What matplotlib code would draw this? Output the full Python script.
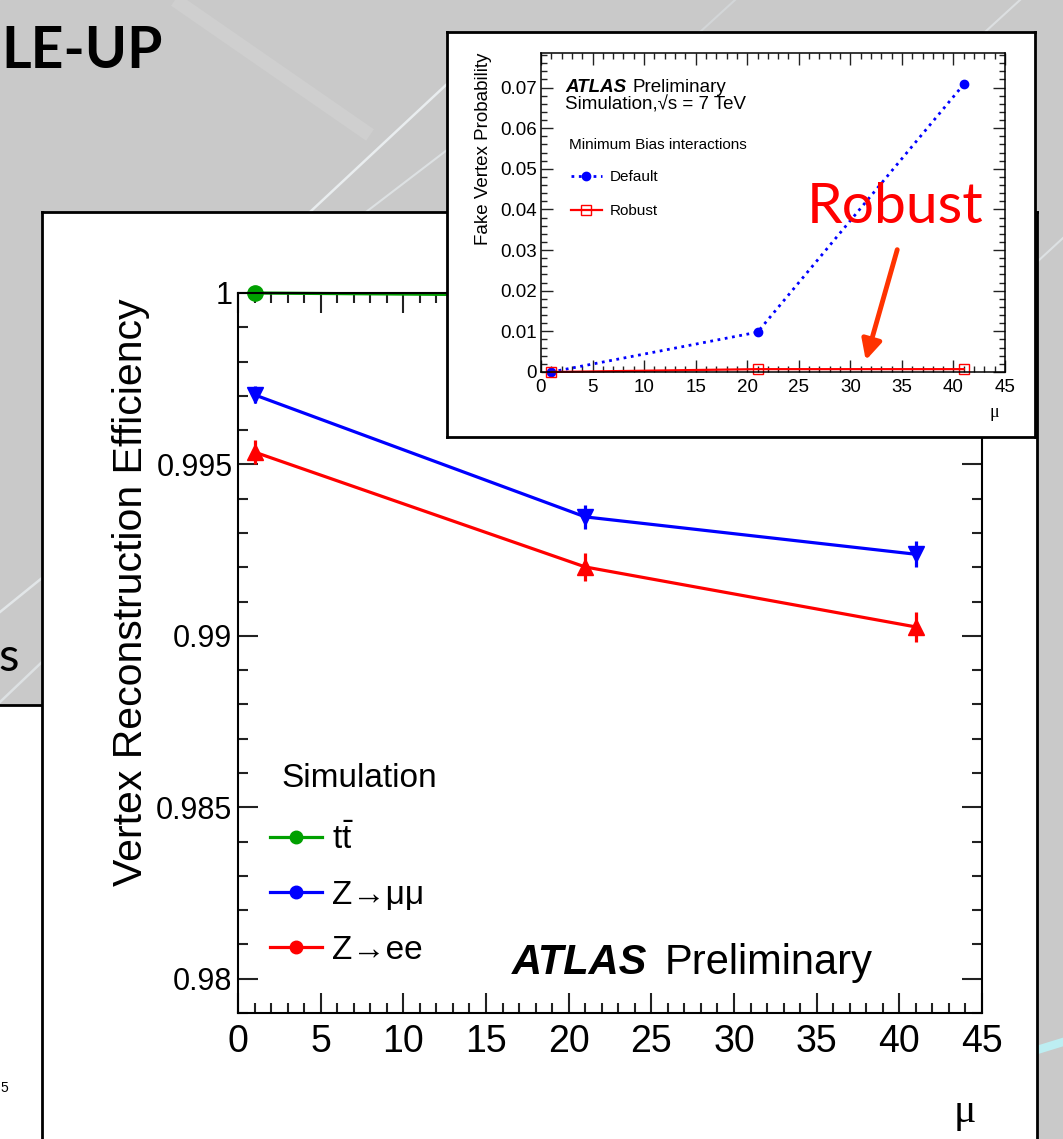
import matplotlib
matplotlib.use("Agg")
import matplotlib.pyplot as plt
from matplotlib.lines import Line2D
from matplotlib.patches import Rectangle
from matplotlib.ticker import MultipleLocator

plt.rcParams['font.family'] = ['Liberation Sans', 'DejaVu Sans']
plt.rcParams['mathtext.fontset'] = 'custom'
plt.rcParams['mathtext.rm'] = 'Liberation Sans'
plt.rcParams['mathtext.it'] = 'Liberation Sans:italic'
plt.rcParams['mathtext.bf'] = 'Liberation Sans:bold'

# vertex reconstruction efficiency vs pile-up
mu = [1, 21, 41]
eff_ttbar = [1.0, 0.99993, 0.99990]
err_ttbar = [0.00002, 0.00002, 0.00002]
eff_zmumu = [0.99703, 0.99347, 0.99238]
err_zmumu = [0.00025, 0.00035, 0.00038]
eff_zee = [0.99536, 0.99201, 0.99026]
err_zee = [0.00035, 0.00040, 0.00045]
series_labels = [r'$\mathrm{t\bar{t}}$', 'Z→μμ', 'Z→ee']
series_colors = ['#00a000', '#0000ff', '#ff0000']

x_ticks = [0, 5, 10, 15, 20, 25, 30, 35, 40, 45]
y_ticks = [0.98, 0.985, 0.99, 0.995, 1.0]
y_tick_labels = ['0.98', '0.985', '0.99', '0.995', '1']

# fake vertex probability (minimum bias)
mu_fake = [1, 21, 41]
fake_default = [0.0, 0.0098, 0.0708]
fake_robust = [0.0, 0.0007, 0.0007]
fake_y_ticks = [0, 0.01, 0.02, 0.03, 0.04, 0.05, 0.06, 0.07]
fake_y_tick_labels = ['0', '0.01', '0.02', '0.03', '0.04', '0.05', '0.06', '0.07']

W, H = 1063, 1139
fig = plt.figure(figsize=(W / 100, H / 100), dpi=100)


def px_axes(x0, y0, x1, y1):
    return fig.add_axes([x0 / W, 1 - y1 / H, (x1 - x0) / W, (y1 - y0) / H])


# slide background
bg = px_axes(0, 0, W, H)
bg.set_zorder(0)
bg.set_xlim(0, W)
bg.set_ylim(H, 0)
bg.axis('off')
bg.add_patch(Rectangle((0, 0), W, H, color='#c9c9c9'))
bg.plot([175, 370], [0, 135], color='#cfcfcf', lw=10, solid_capstyle='butt')
bg.plot([310, 447], [212, 84], color='#e9edef', lw=1.8)
bg.plot([366, 447], [212, 150], color='#dde1e3', lw=1.5)
bg.plot([700, 735], [32, 0], color='#d3d6d8', lw=1.5)
bg.plot([985, 1020], [32, 0], color='#dcdfe1', lw=1.5)
bg.plot([1037, 1063], [262, 238], color='#dde1e3', lw=1.5)
bg.plot([1037, 1063], [1050, 1042], color='#bdeef2', lw=6)
bg.plot([0, 42], [612, 578], color='#e2e6e8', lw=1.8)
bg.plot([0, 42], [702, 662], color='#dde1e3', lw=1.8)
bg.add_patch(Rectangle((0, 705), 42, 440, color='white'))
bg.plot([0, 42], [705, 705], color='black', lw=2)
bg.text(1, 68, 'LE-UP', fontsize=41, fontweight='bold', family='Lato', va='baseline')
bg.text(-2, 671, 's', fontsize=34, family='Lato', va='baseline')
bg.text(0, 1092, '5', fontsize=10, va='baseline')

# white panel behind the efficiency plot
panel = px_axes(42, 212, 1037, 1150)
panel.set_zorder(1)
panel.set_xticks([])
panel.set_yticks([])
for s in panel.spines.values():
    s.set_linewidth(2)

# efficiency plot
ax = px_axes(238, 293, 982, 1013)
ax.set_zorder(2)
ax.set_facecolor('none')
effs = [eff_ttbar, eff_zmumu, eff_zee]
errs = [err_ttbar, err_zmumu, err_zee]
markers = ['o', 'v', '^']
for eff, err, col, mk in zip(effs, errs, series_colors, markers):
    cont = ax.errorbar(mu, eff, yerr=err, fmt='-' + mk, color=col, ms=11,
                       lw=2.3, elinewidth=2.3, capsize=0)
    for art in cont.get_children():
        art.set_clip_on(False)

ax.set_xlim(0, 45)
ax.set_ylim(0.979, 1.0)
ax.set_xticks(x_ticks)
ax.set_xticklabels([str(t) for t in x_ticks])
ax.set_yticks(y_ticks)
ax.set_yticklabels(y_tick_labels)
ax.xaxis.set_minor_locator(MultipleLocator(1))
ax.yaxis.set_minor_locator(MultipleLocator(0.001))
ax.tick_params(which='both', direction='in', top=True, right=True, width=1.5, color='#222222')
ax.tick_params(which='major', length=14.5)
ax.tick_params(which='minor', length=7)
ax.tick_params(axis='x', labelsize=27, pad=8)
ax.tick_params(axis='y', labelsize=22, pad=4)
for s in ax.spines.values():
    s.set_linewidth(1.5)

ax.set_ylabel('Vertex Reconstruction Efficiency', fontsize=29.5)
ax.yaxis.set_label_coords(-0.118, 0.585)
ax.set_xlabel('μ', fontsize=30, family='Liberation Serif')
ax.xaxis.set_label_coords(0.977, -0.11)

ax.text(0.059, 0.326, 'Simulation', transform=ax.transAxes, fontsize=24, va='center')
handles = [Line2D([], [], color=c, marker='o', ms=9, lw=2.3) for c in series_colors]
ax.legend(handles, series_labels, loc='upper left', bbox_to_anchor=(0.043, 0.263),
          borderaxespad=0, borderpad=0, frameon=False, fontsize=24,
          handlelength=1.55, handletextpad=0.3, labelspacing=0.72)

ax.text(0.368, 0.069, 'ATLAS', transform=ax.transAxes, fontsize=30,
        fontweight='bold', style='italic', va='center')
ax.text(0.574, 0.069, 'Preliminary', transform=ax.transAxes, fontsize=30, va='center')

# inset frame
box = px_axes(447, 32, 1035, 437)
box.set_zorder(3)
box.set_xticks([])
box.set_yticks([])
for s in box.spines.values():
    s.set_linewidth(2)

# fake vertex probability
axi = px_axes(541, 53, 1005, 372)
axi.set_zorder(4)
axi.set_facecolor('none')
axi.plot(mu_fake, fake_default, ':', color='#0000ff', lw=2, marker='o', ms=6,
         clip_on=False, label='Default')
axi.plot(mu_fake, fake_robust, '-', color='#ff0000', lw=1.6, marker='s', ms=7,
         mfc='none', mec='#ff0000', clip_on=False, label='Robust')
axi.set_xlim(0, 45)
axi.set_ylim(0, 0.0785)
axi.set_xticks(x_ticks)
axi.set_xticklabels([str(t) for t in x_ticks])
axi.set_yticks(fake_y_ticks)
axi.set_yticklabels(fake_y_tick_labels)
axi.xaxis.set_minor_locator(MultipleLocator(1))
axi.yaxis.set_minor_locator(MultipleLocator(0.002))
axi.tick_params(which='both', direction='in', top=True, right=True, width=1, color='#222222')
axi.tick_params(which='major', length=8.5, labelsize=13.5)
axi.tick_params(which='minor', length=4.3)
axi.tick_params(axis='x', pad=5)
axi.tick_params(axis='y', pad=3)
for s in axi.spines.values():
    s.set_linewidth(1.1)
axi.set_ylabel('Fake Vertex Probability', fontsize=13.5)
axi.yaxis.set_label_coords(-0.105, 0.70)
axi.set_xlabel('μ', fontsize=13, family='Liberation Serif')
axi.xaxis.set_label_coords(0.978, -0.1)

axi.text(0.052, 0.893, 'ATLAS', transform=axi.transAxes, fontsize=13.5,
         fontweight='bold', style='italic', va='center')
axi.text(0.198, 0.893, 'Preliminary', transform=axi.transAxes, fontsize=13.5, va='center')
axi.text(0.052, 0.837, 'Simulation,√s = 7 TeV', transform=axi.transAxes,
         fontsize=13.5, va='center')
axi.text(0.06, 0.712, 'Minimum Bias interactions', transform=axi.transAxes,
         fontsize=11, va='center')
axi.legend(loc='upper left', bbox_to_anchor=(0.065, 0.633), borderaxespad=0,
           borderpad=0, frameon=False, fontsize=11, handlelength=2.0,
           handletextpad=0.5, labelspacing=1.3)

# annotation layer
top = px_axes(0, 0, W, H)
top.set_zorder(10)
top.set_xlim(0, W)
top.set_ylim(H, 0)
top.axis('off')
top.text(807, 223, 'Robust', color='#ff0000', fontsize=41, family='Lato', va='baseline')
top.annotate('', xy=(865, 363), xytext=(898, 247),
             arrowprops=dict(arrowstyle='-|>', color='#ff3300', lw=3.5, mutation_scale=30))

fig.savefig('out.png', dpi=100)
